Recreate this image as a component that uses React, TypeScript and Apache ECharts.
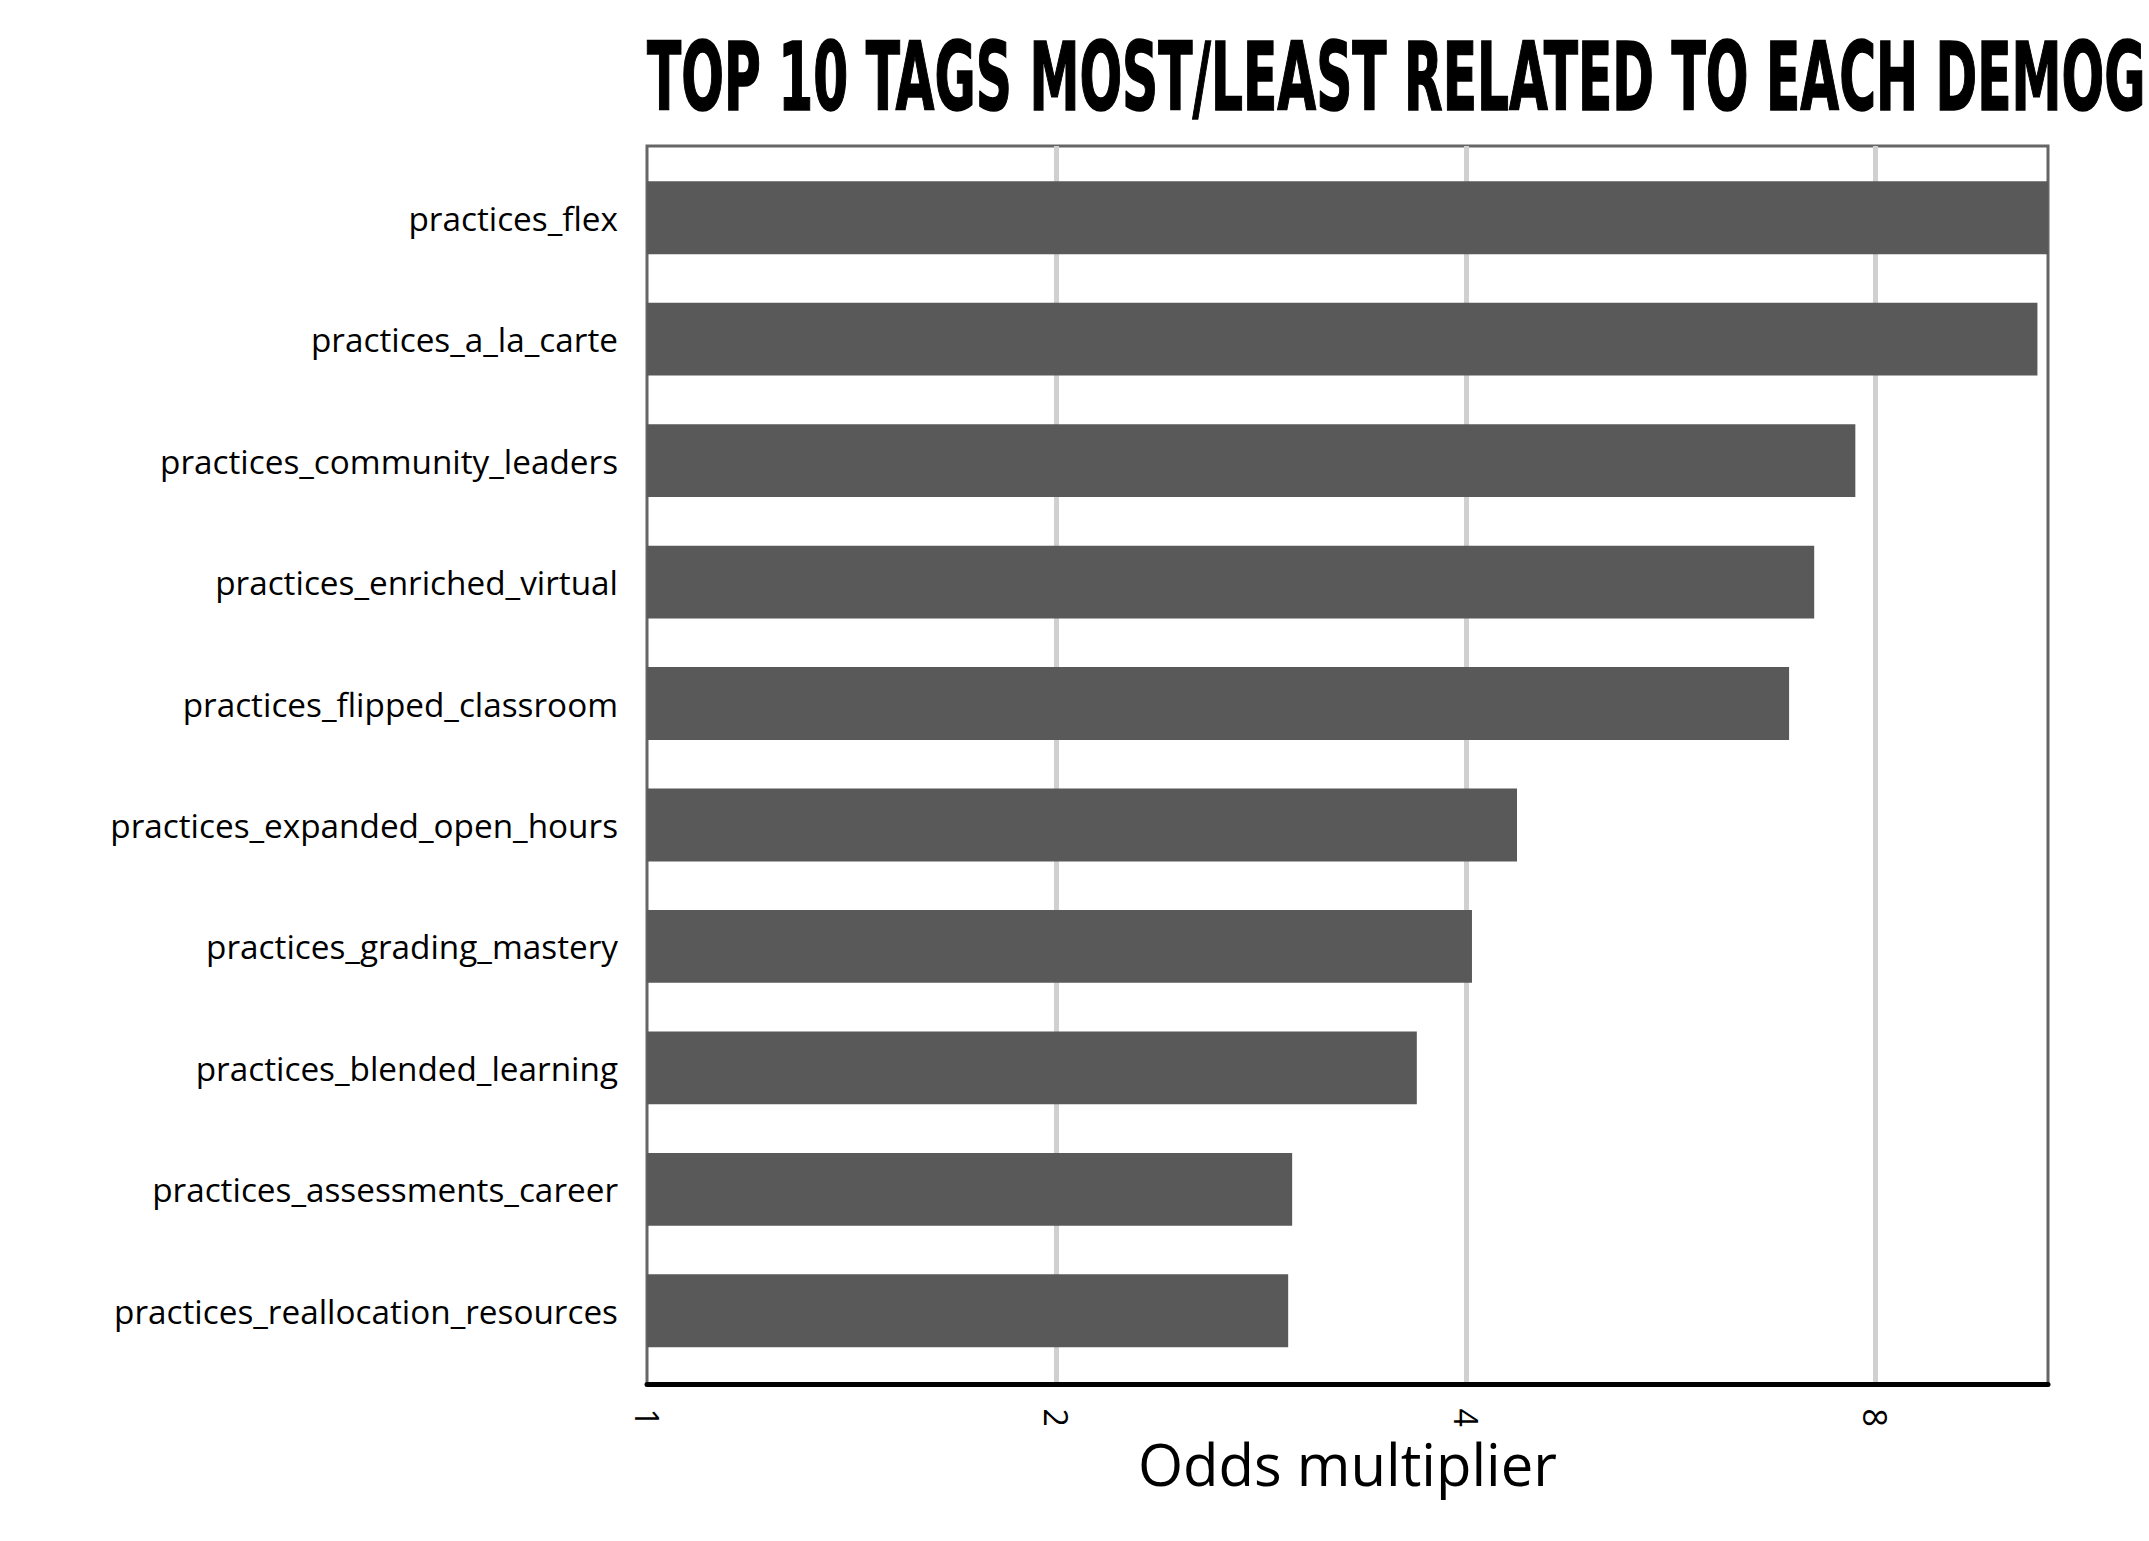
import React, { useEffect, useRef } from "react";
import * as echarts from "echarts";

const TITLE = "TOP 10 TAGS MOST/LEAST RELATED TO EACH DEMOG";
const X_NAME = "Odds multiplier";

const categories = [
  "practices_flex",
  "practices_a_la_carte",
  "practices_community_leaders",
  "practices_enriched_virtual",
  "practices_flipped_classroom",
  "practices_expanded_open_hours",
  "practices_grading_mastery",
  "practices_blended_learning",
  "practices_assessments_career",
  "practices_reallocation_resources",
];

const oddsValues = [10.71, 10.52, 7.73, 7.21, 6.91, 4.36, 4.04, 3.68, 2.98, 2.96];

const FONT = '"Open Sans", "Noto Sans", sans-serif';
const TITLE_FONT_FAMILY = '"Liberation Sans Narrow", "DejaVu Sans Condensed", sans-serif';

export default function App() {
  const ref = useRef<HTMLDivElement>(null);

  useEffect(() => {
    const el = ref.current;
    if (!el) return;
    const chart = echarts.init(el, null, { renderer: "svg" });

    const titleFont = `bold 95px ${TITLE_FONT_FAMILY}`;
    let sx = 0.7;
    const ctx = document.createElement("canvas").getContext("2d");
    if (ctx) {
      ctx.font = titleFont;
      const w = ctx.measureText(TITLE).width;
      if (w > 0) sx = 1498 / w;
    }
    const xMax = Math.max(...oddsValues);

    chart.setOption({
      animation: false,
      backgroundColor: "#ffffff",
      textStyle: { fontFamily: FONT },
      grid: [
        {
          left: 647,
          top: 146,
          width: 1401,
          height: 1238.5,
          show: true,
          borderColor: "#666666",
          borderWidth: 3,
          backgroundColor: "transparent",
        },
        { left: 647, top: 157, width: 1401, height: 1214.5 },
      ],
      xAxis: [
        {
          type: "log",
          logBase: 2,
          gridIndex: 0,
          min: 1,
          max: xMax,
          axisLine: { show: true, lineStyle: { color: "#000000", width: 5 } },
          axisTick: { show: false },
          splitLine: {
            show: true,
            showMinLine: false,
            showMaxLine: false,
            lineStyle: { color: "#d0d0d0", width: 5 },
          },
          axisLabel: {
            rotate: -90,
            fontSize: 32,
            color: "#000000",
            margin: 24,
            showMaxLabel: false,
            fontFamily: FONT,
          },
          name: X_NAME,
          nameLocation: "middle",
          nameGap: 48,
          nameTextStyle: { fontSize: 58, color: "#000000", fontFamily: FONT },
        },
        {
          type: "log",
          logBase: 2,
          gridIndex: 1,
          min: 1,
          max: xMax,
          show: false,
        },
      ],
      yAxis: [
        { type: "value", gridIndex: 0, show: false },
        {
          type: "category",
          gridIndex: 1,
          data: categories,
          inverse: true,
          axisLine: { show: false },
          axisTick: { show: false },
          splitLine: { show: false },
          axisLabel: { fontSize: 33.3, color: "#000000", margin: 29, fontFamily: FONT },
        },
      ],
      series: [
        {
          type: "bar",
          xAxisIndex: 1,
          yAxisIndex: 1,
          data: oddsValues,
          barCategoryGap: "40%",
          itemStyle: { color: "#595959" },
          silent: true,
        },
      ],
      graphic: [
        {
          type: "text",
          x: 647,
          y: 77,
          scaleX: sx,
          style: {
            text: TITLE,
            font: titleFont,
            fill: "#000000",
            stroke: "#000000",
            lineWidth: 1.5,
            align: "left",
            verticalAlign: "middle",
          },
        },
      ],
    });

    return () => chart.dispose();
  }, []);

  return (
    <div
      ref={ref}
      style={{
        position: "fixed",
        left: 0,
        top: 0,
        width: 2149,
        height: 1541,
        background: "#ffffff",
      }}
    />
  );
}
